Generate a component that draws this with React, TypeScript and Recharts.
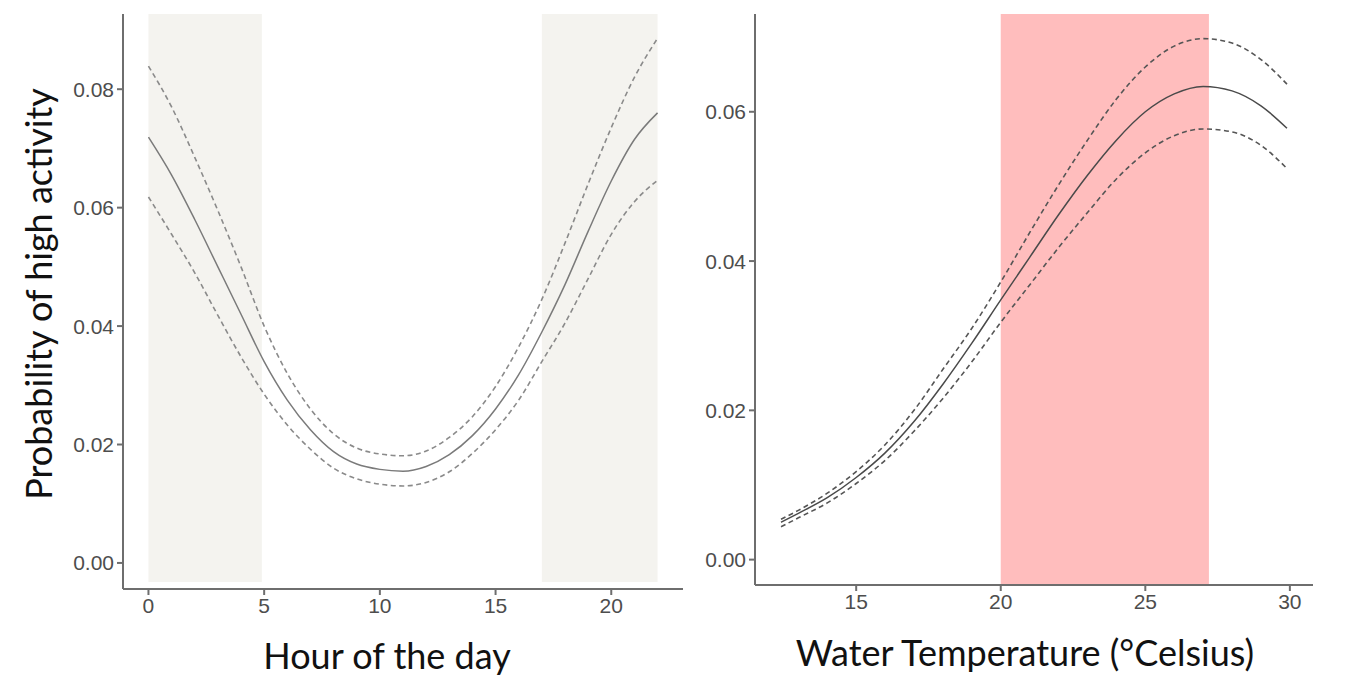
import { LineChart, Line, XAxis, YAxis, ReferenceArea } from "recharts";

// left panel: hour of the day
const hours = [0, 1, 2, 3, 4, 5, 6, 7, 8, 9, 10, 11, 12, 13, 14, 15, 16, 17, 18, 19, 20, 21, 22];
const hourMean = [0.0719, 0.0655, 0.058, 0.05, 0.042, 0.034, 0.0275, 0.0225, 0.0188, 0.0167, 0.0158, 0.0155, 0.0163, 0.0183, 0.0215, 0.026, 0.0318, 0.039, 0.047, 0.056, 0.0645, 0.0715, 0.076];
const hourUpper = [0.0839, 0.077, 0.0685, 0.0595, 0.05, 0.04, 0.032, 0.026, 0.0218, 0.0194, 0.0184, 0.0181, 0.0189, 0.0212, 0.0247, 0.0298, 0.0365, 0.0445, 0.054, 0.064, 0.0735, 0.082, 0.0886];
const hourLower = [0.0618, 0.0555, 0.049, 0.0418, 0.0348, 0.0285, 0.0233, 0.0192, 0.016, 0.0142, 0.0133, 0.013, 0.0136, 0.0154, 0.0185, 0.0225, 0.0275, 0.034, 0.0405, 0.048, 0.0555, 0.061, 0.0646];
const hourTicks = [0, 5, 10, 15, 20];
const hourYTicks = [0, 0.02, 0.04, 0.06, 0.08];

// right panel: water temperature
const temps = [12.4, 13, 14, 15, 16, 17, 18, 19, 20, 21, 22, 23, 24, 25, 26, 27, 28, 29, 29.9];
const tempMean = [0.005, 0.0062, 0.0083, 0.011, 0.0143, 0.0185, 0.0235, 0.029, 0.0348, 0.0405, 0.0462, 0.0515, 0.0562, 0.06, 0.0624, 0.0634, 0.0628, 0.0608, 0.0578];
const tempUpper = [0.0054, 0.0066, 0.0089, 0.0118, 0.0154, 0.02, 0.0255, 0.031, 0.0372, 0.0438, 0.0502, 0.0562, 0.0617, 0.066, 0.0688, 0.0698, 0.0692, 0.067, 0.0637];
const tempLower = [0.0044, 0.0056, 0.0076, 0.0102, 0.0133, 0.0172, 0.0216, 0.0265, 0.0318, 0.0368, 0.0418, 0.0465, 0.051, 0.0545, 0.0568, 0.0577, 0.0573, 0.0555, 0.0524];
const tempTicks = [15, 20, 25, 30];
const tempYTicks = [0, 0.02, 0.04, 0.06];

const hourData = hours.map((h, i) => ({ x: h, mean: hourMean[i], upper: hourUpper[i], lower: hourLower[i] }));
const tempData = temps.map((t, i) => ({ x: t, mean: tempMean[i], upper: tempUpper[i], lower: tempLower[i] }));

const tickStyle = { fill: "#4d4d4d", fontSize: 21, fontFamily: "'Liberation Sans', Arial, sans-serif" };
const axisLine = { stroke: "#6e6e6e", strokeWidth: 2 };
const titleStyle: any = {
    position: "absolute",
    transform: "translate(-50%, -50%)",
    whiteSpace: "nowrap",
    lineHeight: 1,
    fontFamily: "Lato, 'Open Sans', sans-serif",
    fontSize: 36,
    color: "#111"
};

const fmt = (v: number) => v.toFixed(2);

export default function App() {
    return (
        <div style={{ position: "absolute", left: 0, top: 0, width: 1365, height: 700, background: "#fff" }}>

            <div style={{ position: "absolute", left: 0, top: 0 }}>
                <LineChart width={700} height={700} data={hourData} margin={{ top: 14, right: 17, left: 0, bottom: 0 }}>
                    <XAxis
                        type="number"
                        dataKey="x"
                        domain={[-1.1, 23.1]}
                        ticks={hourTicks}
                        allowDataOverflow
                        height={111}
                        tickSize={6}
                        tickMargin={3}
                        tick={tickStyle}
                        axisLine={axisLine}
                        tickLine={axisLine}
                    />
                    <YAxis
                        type="number"
                        domain={[-0.0044, 0.0927]}
                        ticks={hourYTicks}
                        allowDataOverflow
                        width={123}
                        tickSize={6}
                        tickMargin={3}
                        tickFormatter={fmt}
                        tick={tickStyle}
                        axisLine={axisLine}
                        tickLine={axisLine}
                    />
                    <ReferenceArea x1={0} x2={4.9} y1={-0.0032} y2={0.0927} fill="#f4f3ef" fillOpacity={1} stroke="none" />
                    <ReferenceArea x1={17} x2={22} y1={-0.0032} y2={0.0927} fill="#f4f3ef" fillOpacity={1} stroke="none" />
                    <Line type="monotone" dataKey="upper" stroke="#8a8a8a" strokeWidth={1.6} strokeDasharray="5 3.5" dot={false} activeDot={false} isAnimationActive={false} />
                    <Line type="monotone" dataKey="lower" stroke="#8a8a8a" strokeWidth={1.6} strokeDasharray="5 3.5" dot={false} activeDot={false} isAnimationActive={false} />
                    <Line type="monotone" dataKey="mean" stroke="#7a7a7a" strokeWidth={1.5} dot={false} activeDot={false} isAnimationActive={false} />
                </LineChart>
            </div>

            <div style={{ position: "absolute", left: 680, top: 0 }}>
                <LineChart width={685} height={700} data={tempData} margin={{ top: 14, right: 52, left: 0, bottom: 0 }}>
                    <XAxis
                        type="number"
                        dataKey="x"
                        domain={[11.5, 30.8]}
                        ticks={tempTicks}
                        allowDataOverflow
                        height={115}
                        tickSize={6}
                        tickMargin={3}
                        tick={tickStyle}
                        axisLine={axisLine}
                        tickLine={axisLine}
                    />
                    <YAxis
                        type="number"
                        domain={[-0.0034, 0.0731]}
                        ticks={tempYTicks}
                        allowDataOverflow
                        width={75}
                        tickSize={6}
                        tickMargin={3}
                        tickFormatter={fmt}
                        tick={tickStyle}
                        axisLine={axisLine}
                        tickLine={axisLine}
                    />
                    <ReferenceArea x1={20} x2={27.2} y1={-0.0034} y2={0.0731} fill="#ffbdbd" fillOpacity={1} stroke="none" />
                    <Line type="monotone" dataKey="upper" stroke="#555" strokeWidth={1.6} strokeDasharray="5 3.5" dot={false} activeDot={false} isAnimationActive={false} />
                    <Line type="monotone" dataKey="lower" stroke="#555" strokeWidth={1.6} strokeDasharray="5 3.5" dot={false} activeDot={false} isAnimationActive={false} />
                    <Line type="monotone" dataKey="mean" stroke="#4a4a4a" strokeWidth={1.5} dot={false} activeDot={false} isAnimationActive={false} />
                </LineChart>
            </div>

            <div style={{ ...titleStyle, left: 38, top: 294, transform: "translate(-50%, -50%) rotate(-90deg)" }}>
                Probability of high activity
            </div>
            <div style={{ ...titleStyle, left: 387, top: 655 }}>Hour of the day</div>
            <div style={{ ...titleStyle, left: 1025, top: 652 }}>Water Temperature (°Celsius)</div>
        </div>
    );
}
